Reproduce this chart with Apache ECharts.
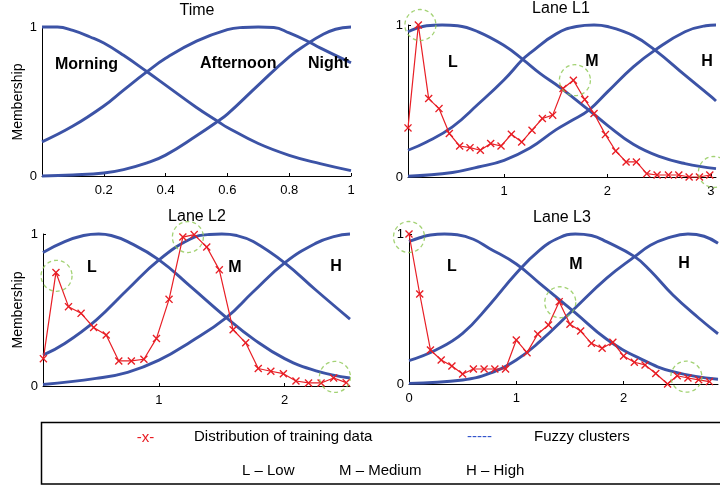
<!DOCTYPE html>
<html>
<head>
<meta charset="utf-8">
<script src="https://cdn.jsdelivr.net/npm/echarts@6/dist/echarts.min.js"></script>
<style>
html,body{margin:0;padding:0;background:#fff;}
#chart{width:720px;height:488px;}
</style>
</head>
<body>
<div id="chart"></div>
<script>
// ---------- Panel titles & labels ----------
var panelTitles = ['Time', 'Lane L1', 'Lane L2', 'Lane L3'];
var timeLabels = ['Morning', 'Afternoon', 'Night'];
var laneLabels = ['L', 'M', 'H'];

// ---------- Tick labels ----------
var timeTicks = [0.2, 0.4, 0.6, 0.8, 1];
var l1Ticks = [1, 2, 3];
var l2Ticks = [1, 2];
var l3Ticks = [0, 1, 2];
var yTicks = [0, 1];

// ---------- Time panel membership functions ----------
var timeMorning = [[0,1],[0.05,1],[0.1,0.977],[0.156,0.933],[0.2,0.892],[0.264,0.81],[0.34,0.70],[0.4,0.61],[0.5,0.46],[0.571,0.364],[0.6,0.326],[0.7,0.218],[0.8,0.139],[0.9,0.083],[1,0.036]];
var timeAfternoon = [[0,0.229],[0.1,0.335],[0.2,0.47],[0.264,0.577],[0.34,0.70],[0.4,0.79],[0.5,0.905],[0.6,0.982],[0.65,0.997],[0.7,1],[0.75,0.997],[0.8,0.96],[0.861,0.903],[0.9,0.86],[1,0.76]];
var timeNight = [[0,0],[0.1,0.007],[0.2,0.02],[0.264,0.043],[0.34,0.088],[0.4,0.14],[0.5,0.27],[0.571,0.37],[0.6,0.415],[0.7,0.61],[0.8,0.80],[0.861,0.89],[0.9,0.94],[0.95,0.985],[1,1]];

// ---------- Lane L1 ----------
var l1Low = [[0.07,0.956],[0.15,0.978],[0.25,0.995],[0.4,1],[0.55,0.995],[0.75,0.955],[1.0,0.865],[1.18,0.774],[1.35,0.68],[1.54,0.59],[1.82,0.44],[2.0,0.34],[2.25,0.215],[2.5,0.135],[2.75,0.088],[3.05,0.055]];
var l1Med = [[0.07,0.176],[0.25,0.23],[0.5,0.33],[0.75,0.48],[1.0,0.64],[1.18,0.774],[1.25,0.815],[1.5,0.94],[1.7,0.99],[1.87,1],[2.0,0.99],[2.25,0.93],[2.46,0.835],[2.75,0.67],[3.0,0.53],[3.05,0.50]];
var l1High = [[0.07,0.005],[0.5,0.03],[0.75,0.066],[1.0,0.11],[1.25,0.19],[1.5,0.31],[1.65,0.37],[1.82,0.44],[2.0,0.56],[2.25,0.725],[2.46,0.835],[2.75,0.956],[2.95,0.995],[3.05,1]];
var l1DataX = [0.07,0.17,0.27,0.37,0.47,0.57,0.67,0.77,0.87,0.97,1.07,1.17,1.27,1.37,1.47,1.57,1.67,1.78,1.87,1.98,2.08,2.18,2.28,2.38,2.48,2.59,2.69,2.79,2.89,2.99];
var l1DataY = [0.323,1.0,0.516,0.45,0.286,0.204,0.193,0.176,0.22,0.204,0.281,0.23,0.308,0.385,0.407,0.582,0.637,0.51,0.418,0.279,0.171,0.099,0.099,0.022,0.013,0.013,0.013,0.0,0.0,0.013];
var l1Circles = [[0.19,1.0],[1.685,0.637],[3.03,0.033]];

// ---------- Lane L2 ----------
var l2Low = [[0.077,0.879],[0.25,0.95],[0.4,0.99],[0.52,1],[0.62,0.99],[0.75,0.95],[1.0,0.83],[1.25,0.655],[1.536,0.45],[1.75,0.31],[2.0,0.18],[2.25,0.10],[2.52,0.053]];
var l2Med = [[0.077,0.203],[0.25,0.28],[0.5,0.434],[0.75,0.635],[1.0,0.83],[1.25,0.967],[1.4,0.997],[1.5,1],[1.62,0.99],[1.75,0.95],[2.0,0.81],[2.25,0.63],[2.52,0.44]];
var l2High = [[0.077,0.01],[0.5,0.05],[0.75,0.09],[1.0,0.17],[1.25,0.29],[1.536,0.45],[1.75,0.62],[2.0,0.81],[2.25,0.94],[2.4,0.985],[2.52,1]];
var l2DataX = [0.08,0.18,0.28,0.38,0.48,0.58,0.68,0.78,0.88,0.98,1.08,1.19,1.28,1.38,1.48,1.59,1.69,1.79,1.89,1.99,2.09,2.19,2.29,2.39,2.49];
var l2DataY = [0.18,0.747,0.522,0.478,0.385,0.335,0.165,0.165,0.176,0.313,0.57,0.98,0.996,0.914,0.764,0.37,0.284,0.115,0.097,0.081,0.033,0.02,0.02,0.053,0.022];
var l2Circles = [[0.185,0.725],[1.23,0.98],[2.4,0.06]];

// ---------- Lane L3 ----------
var l3Low = [[0,0.95],[0.1,0.975],[0.2,0.993],[0.33,1],[0.45,0.995],[0.6,0.965],[0.75,0.904],[1.0,0.80],[1.218,0.671],[1.545,0.478],[1.84,0.30],[2.15,0.171],[2.46,0.082],[2.88,0.032]];
var l3Med = [[0,0.156],[0.25,0.227],[0.5,0.338],[0.75,0.527],[1.0,0.738],[1.218,0.893],[1.4,0.975],[1.55,1],[1.7,0.99],[1.84,0.949],[2.103,0.849],[2.25,0.755],[2.46,0.593],[2.7,0.44],[2.88,0.335]];
var l3High = [[0,0.004],[0.5,0.027],[0.75,0.071],[1.0,0.16],[1.218,0.282],[1.529,0.493],[1.84,0.704],[2.103,0.849],[2.25,0.925],[2.4,0.971],[2.6,1],[2.75,0.985],[2.88,0.938]];
var l3DataX = [0,0.1,0.2,0.3,0.4,0.5,0.6,0.7,0.8,0.9,1.0,1.1,1.2,1.3,1.4,1.5,1.6,1.7,1.8,1.9,2.0,2.1,2.2,2.3,2.41,2.5,2.6,2.7,2.8];
var l3DataY = [1.0,0.6,0.227,0.16,0.12,0.067,0.1,0.1,0.1,0.1,0.293,0.209,0.333,0.393,0.549,0.398,0.353,0.271,0.238,0.278,0.187,0.145,0.127,0.07,0.0,0.055,0.04,0.028,0.016];
var l3Circles = [[0,0.98],[1.41,0.545],[2.585,0.049]];

// ---------- Legend texts ----------
var legendRow1 = ['-x-', 'Distribution of training data', '-----', 'Fuzzy clusters'];
var legendRow2 = ['L \u2013 Low', 'M \u2013 Medium', 'H \u2013 High'];

// ---------- Styles ----------
var FONT = "'Liberation Sans', Arial, sans-serif";
var BLUE = '#3c53a6';
var RED = '#e81e25';
var GREEN = '#8cc751';
var XSYM = 'path://M1.2,0L5,3.8L8.8,0L10,1.2L6.2,5L10,8.8L8.8,10L5,6.2L1.2,10L0,8.8L3.8,5L0,1.2Z';

function zip(xs, ys) { return xs.map(function (x, i) { return [x, ys[i]]; }); }

var grids = [
  {left: 42, top: 27, width: 309, height: 149},
  {left: 408, top: 25, width: 308, height: 152},
  {left: 43, top: 234, width: 307, height: 152},
  {left: 409, top: 234, width: 309, height: 150}
];
var xRanges = [[0, 1], [0.07, 3.05], [0.077, 2.52], [0, 2.88]];
var xTickSets = [timeTicks, l1Ticks, l2Ticks, l3Ticks];

var xAxes = [], yAxes = [];
grids.forEach(function (g, i) {
  xAxes.push({
    type: 'value', gridIndex: i, min: xRanges[i][0], max: xRanges[i][1],
    axisLine: {show: true, onZero: false, lineStyle: {color: '#000', width: 1}},
    splitLine: {show: false},
    axisTick: {show: true, inside: true, length: 3, customValues: xTickSets[i], lineStyle: {color: '#000'}},
    axisLabel: {customValues: xTickSets[i], fontSize: 13, color: '#000', margin: 8, fontFamily: FONT,
      formatter: function (v) { return String(Math.round(v * 10) / 10); }}
  });
  yAxes.push({
    type: 'value', gridIndex: i, min: 0, max: 1,
    axisLine: {show: true, onZero: false, lineStyle: {color: '#000', width: 1}},
    splitLine: {show: false},
    axisTick: {show: true, inside: true, length: 3, customValues: yTicks, lineStyle: {color: '#000'}},
    axisLabel: {customValues: yTicks, fontSize: 13, color: '#000', margin: 5, fontFamily: FONT}
  });
});

var series = [];
function blue(idx, data) {
  series.push({type: 'line', xAxisIndex: idx, yAxisIndex: idx, data: data, smooth: 0.45,
    showSymbol: false, clip: false, lineStyle: {color: BLUE, width: 2.9}, z: 2});
}
function red(idx, data) {
  series.push({type: 'line', xAxisIndex: idx, yAxisIndex: idx, data: data, clip: false,
    symbol: XSYM, symbolSize: 8, showAllSymbol: true,
    lineStyle: {color: RED, width: 1.2}, itemStyle: {color: RED}, z: 3});
}
function circles(idx, data) {
  series.push({type: 'scatter', xAxisIndex: idx, yAxisIndex: idx, data: data, clip: false,
    symbol: 'circle', symbolSize: 31,
    itemStyle: {color: 'rgba(0,0,0,0)', borderColor: GREEN, borderWidth: 1.3, borderType: [4, 3]}, z: 4});
}
blue(0, timeMorning); blue(0, timeAfternoon); blue(0, timeNight);
blue(1, l1Low); blue(1, l1Med); blue(1, l1High); red(1, zip(l1DataX, l1DataY)); circles(1, l1Circles);
blue(2, l2Low); blue(2, l2Med); blue(2, l2High); red(2, zip(l2DataX, l2DataY)); circles(2, l2Circles);
blue(3, l3Low); blue(3, l3Med); blue(3, l3High); red(3, zip(l3DataX, l3DataY)); circles(3, l3Circles);

function txt(s, x, y, opt) {
  opt = opt || {};
  return {type: 'text', x: x, y: y, rotation: opt.rot || 0, z: 10,
    style: {text: s, fill: opt.color || '#000', fontSize: opt.size || 15,
      fontWeight: opt.bold ? 'bold' : 'normal', fontFamily: FONT,
      align: opt.align || 'left', verticalAlign: 'middle'}};
}

var graphics = [
  txt(panelTitles[0], 197, 11, {size: 16, align: 'center'}),
  txt(panelTitles[1], 561, 9, {size: 16, align: 'center'}),
  txt(panelTitles[2], 197, 217, {size: 16, align: 'center'}),
  txt(panelTitles[3], 562, 218, {size: 16, align: 'center'}),
  txt('Membership', 18, 102, {size: 14, align: 'center', rot: Math.PI / 2}),
  txt('Membership', 18, 310, {size: 14, align: 'center', rot: Math.PI / 2}),
  txt(timeLabels[0], 55, 65, {size: 16, bold: true}),
  txt(timeLabels[1], 200, 64, {size: 16, bold: true}),
  txt(timeLabels[2], 308, 64, {size: 16, bold: true}),
  txt(laneLabels[0], 453, 63, {size: 16, bold: true, align: 'center'}),
  txt(laneLabels[1], 592, 62, {size: 16, bold: true, align: 'center'}),
  txt(laneLabels[2], 707, 62, {size: 16, bold: true, align: 'center'}),
  txt(laneLabels[0], 92, 268, {size: 16, bold: true, align: 'center'}),
  txt(laneLabels[1], 235, 268, {size: 16, bold: true, align: 'center'}),
  txt(laneLabels[2], 336, 267, {size: 16, bold: true, align: 'center'}),
  txt(laneLabels[0], 452, 267, {size: 16, bold: true, align: 'center'}),
  txt(laneLabels[1], 576, 265, {size: 16, bold: true, align: 'center'}),
  txt(laneLabels[2], 684, 264, {size: 16, bold: true, align: 'center'}),
  {type: 'rect', shape: {x: 41.5, y: 422.5, width: 700, height: 61.5}, z: 9,
    style: {fill: 'none', stroke: '#000', lineWidth: 1.5}},
  txt(legendRow1[0], 145.5, 438, {size: 15, color: RED, align: 'center'}),
  txt(legendRow1[1], 194, 437, {size: 15}),
  txt(legendRow1[2], 467, 437, {size: 15, color: '#3355cc'}),
  txt(legendRow1[3], 534, 437, {size: 15}),
  txt(legendRow2[0], 242, 471, {size: 15}),
  txt(legendRow2[1], 339, 471, {size: 15}),
  txt(legendRow2[2], 466, 471, {size: 15})
];

var chart = echarts.init(document.getElementById('chart'), null, {renderer: 'canvas'});
chart.setOption({
  animation: false,
  backgroundColor: '#fff',
  grid: grids,
  xAxis: xAxes,
  yAxis: yAxes,
  series: series,
  graphic: graphics
});
</script>
</body>
</html>
